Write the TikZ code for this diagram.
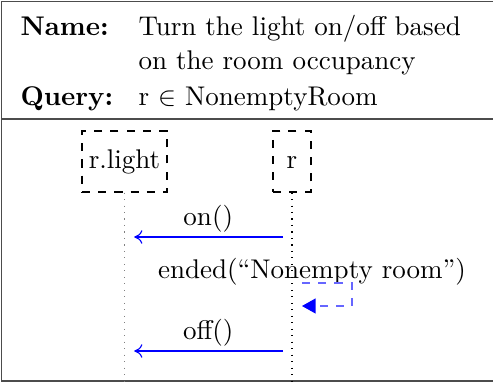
\documentclass[tikz,border=0pt]{standalone}
\usetikzlibrary{arrows.meta}
\newdimen\U
\U=0.37pt
\tikzset{
  lbl/.style={anchor=base west, inner sep=0pt},
  frame/.style={draw=black!70},
  lifebox/.style={draw, dashed, minimum height=61\U, inner sep=0pt, text height=6.94pt, text depth=1.94pt},
  lifeline/.style={dotted},
  msg/.style={draw=blue, -{To[length=3pt,width=5pt]}, shorten <=3.3pt, shorten >=3.6pt},
  selfmsg/.style={draw=blue!60, dashed, -{Triangle[length=5pt,width=5.5pt,fill=blue,color=blue]}},
}
\begin{document}
\begin{tikzpicture}[x=\U, y=-\U]
\useasboundingbox (0,0) rectangle (493,382);
% frame
\draw[frame] (495,1.5) -- (1.5,1.5) -- (1.5,381) -- (495,381);
\draw[frame] (1.5,119) -- (495,119);
% header
\node[lbl] (nm) at (20,36) {\textbf{Name:}};
\node[lbl] (nt1) at (138,36) {Turn the light on/off based};
\node[lbl] (nt2) at (138,69) {on the room occupancy};
\node[lbl] (qr) at (20,106) {\textbf{Query:}};
\node[lbl] (qt) at (138,106) {r $\in$ NonemptyRoom};
% lifeline heads
\node[lifebox, minimum width=85\U] (rl) at (124.5,161.5) {r.light};
\node[lifebox, minimum width=38\U] (r) at (292,161.5) {r};
\coordinate (rlend) at (rl.south |- 0,381);
\coordinate (rend) at (r.south |- 0,381);
\draw[lifeline, gray] (rl.south) -- (rlend);
\draw[lifeline] (r.south) -- (rend);
% messages
\coordinate (a1) at (r.south |- 0,237);
\coordinate (b1) at (rl.south |- 0,237);
\draw[msg] (a1) -- node[above, inner sep=1.5pt] (m1) {on()} (b1);
\node (m2) at (312,272) {ended(``Nonempty room'')};
\coordinate (s1) at ([xshift=10\U]r.south |- 0,283);
\coordinate (s2) at (352,306);
\coordinate (s3) at ([xshift=10\U]r.south |- 0,306);
\draw[selfmsg] (s1) -| (s2) -- (s3);
\coordinate (a3) at (r.south |- 0,351);
\coordinate (b3) at (rl.south |- 0,351);
\draw[msg] (a3) -- node[above, inner sep=1.5pt] (m3) {off()} (b3);
\end{tikzpicture}
\end{document}
